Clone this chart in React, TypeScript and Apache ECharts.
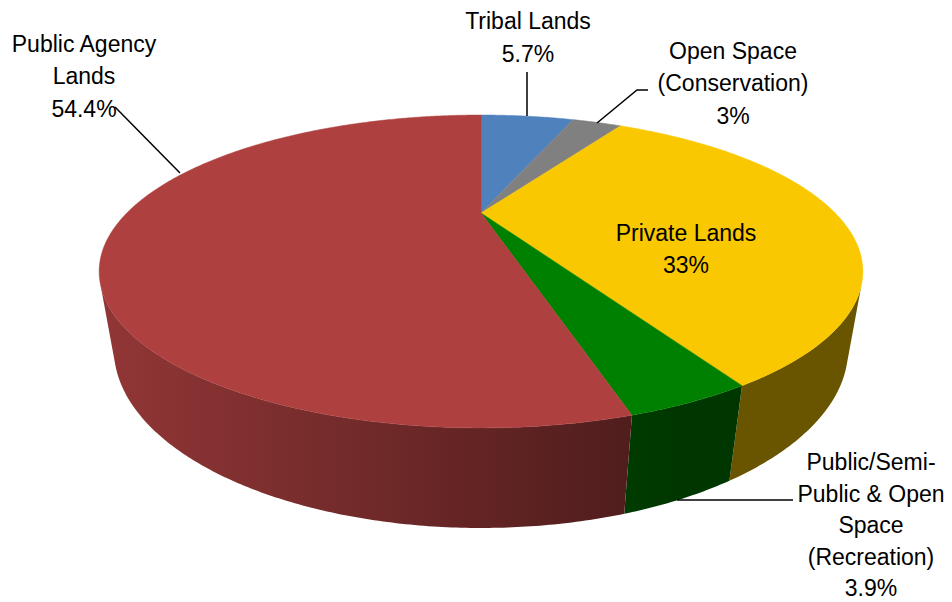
import React, { useEffect, useRef } from "react";
import * as echarts from "echarts";

// ---- data ----
const categories = [
  "Tribal Lands",
  "Open Space\n(Conservation)",
  "Private Lands",
  "Public/Semi-\nPublic & Open\nSpace\n(Recreation)",
  "Public Agency\nLands",
];
const values = [5.7, 3, 33, 3.9, 54.4];
const topColors = ["#4F81BD", "#808080", "#F9C800", "#008000", "#AE4040"];

// ---- label layout (pixel positions) ----
const labelPos = [
  { x: 528, y: 37, lh: 33 },
  { x: 733, y: 83, lh: 32.5 },
  { x: 686, y: 249, lh: 32 },
  { x: 871, y: 525, lh: 31.5 },
  { x: 84, y: 76, lh: 32.5 },
];
const leaderLines = [
  [[527, 72], [527, 116]],
  [[597, 123], [637, 90], [648, 90]],
  null,
  [[677, 500], [793, 500]],
  [[115, 107], [180, 173]],
];

// ---- perspective projection of the pie cylinder ----
const CX = 481, CY = 213, F = 876.6, D = 2.475, SA = 0.38, CA = 0.925, T = 0.2244;
function proj(x: number, y: number, z: number): number[] {
  const depth = D + y * CA - z * SA;
  const up = y * SA + z * CA;
  return [CX + (F * x) / depth, CY - (F * up) / depth];
}
function rim(thetaDeg: number, z: number) {
  const t = (thetaDeg * Math.PI) / 180;
  return proj(Math.sin(t), Math.cos(t), z);
}
const total = values.reduce((a, b) => a + b, 0);
function sliceAngles(i: number) {
  let s = 0;
  for (let k = 0; k < i; k++) s += values[k];
  return [(s / total) * 360, ((s + values[i]) / total) * 360];
}
const visA = (Math.acos(-1 / (D * CA)) * 180) / Math.PI;
const visB = 360 - visA;

function shadeColor(hex: string, b: number) {
  const r = parseInt(hex.slice(1, 3), 16), g = parseInt(hex.slice(3, 5), 16), bl = parseInt(hex.slice(5, 7), 16);
  const f = (v: number) => Math.max(0, Math.min(255, Math.round(v * b)));
  return `rgb(${f(r)},${f(g)},${f(bl)})`;
}
function shadeAt(x: number) {
  const b = 0.84 - (0.38 * (x - 98)) / (630 - 98);
  return Math.max(0.42, Math.min(0.86, b));
}

export default function App() {
  const ref = useRef<HTMLDivElement>(null);
  useEffect(() => {
    if (!ref.current) return;
    const chart = echarts.init(ref.current, null, { renderer: "svg" });
    const font = '"Liberation Sans", Arial, sans-serif';
    const graphics: any[] = [];
    categories.forEach((c, i) => {
      const p = labelPos[i];
      graphics.push({
        type: "text",
        x: p.x,
        y: p.y,
        style: {
          text: `${c}\n${values[i]}%`,
          fill: "#000",
          font: `23px ${font}`,
          fontSize: 23,
          fontFamily: font,
          lineHeight: p.lh,
          align: "center",
          verticalAlign: "middle",
        },
        z: 10,
      });
      const ll = leaderLines[i];
      if (ll) {
        graphics.push({
          type: "polyline",
          shape: { points: ll },
          style: { stroke: "#000", lineWidth: 1.5, fill: "none" },
          z: 10,
        });
      }
    });

    chart.setOption({
      animation: false,
      backgroundColor: "#fff",
      series: [
        {
          type: "custom",
          coordinateSystem: "none",
          z: 1,
          data: values,
          renderItem: (params: any) => {
            const i = params.dataIndex;
            const [a1, a2] = sliceAngles(i);
            const lo = Math.max(a1, visA), hi = Math.min(a2, visB);
            if (!(hi > lo)) return { type: "group", children: [] };
            const n = Math.max(2, Math.ceil((hi - lo) / 0.5));
            const top: number[][] = [], bot: number[][] = [];
            for (let k = 0; k <= n; k++) {
              const th = lo + ((hi - lo) * k) / n;
              top.push(rim(th, 0));
              bot.push(rim(th, -T));
            }
            const pts = top.concat(bot.reverse());
            const xs = pts.map((p) => p[0]);
            const xmin = Math.min(...xs), xmax = Math.max(...xs);
            const stops: any[] = [];
            for (let s = 0; s <= 6; s++) {
              const x = xmin + ((xmax - xmin) * s) / 6;
              stops.push({ offset: s / 6, color: shadeColor(topColors[i], shadeAt(x)) });
            }
            const fill = {
              type: "linear",
              x: xmin,
              y: 0,
              x2: xmax,
              y2: 0,
              global: true,
              colorStops: stops,
            };
            return {
              type: "polygon",
              shape: { points: pts },
              style: { fill },
            };
          },
        },
        {
          type: "custom",
          coordinateSystem: "none",
          z: 2,
          data: values,
          renderItem: (params: any) => {
            const i = params.dataIndex;
            const [a1, a2] = sliceAngles(i);
            const pts: number[][] = [proj(0, 0, 0)];
            const n = Math.max(2, Math.ceil((a2 - a1) / 0.5));
            for (let k = 0; k <= n; k++) pts.push(rim(a1 + ((a2 - a1) * k) / n, 0));
            return {
              type: "polygon",
              shape: { points: pts },
              style: { fill: topColors[i], stroke: topColors[i], lineWidth: 0.5 },
            };
          },
        },
      ],
      graphic: graphics,
    });
    return () => chart.dispose();
  }, []);
  return (
    <div
      ref={ref}
      style={{ position: "fixed", left: 0, top: 0, width: 952, height: 602 }}
    />
  );
}
